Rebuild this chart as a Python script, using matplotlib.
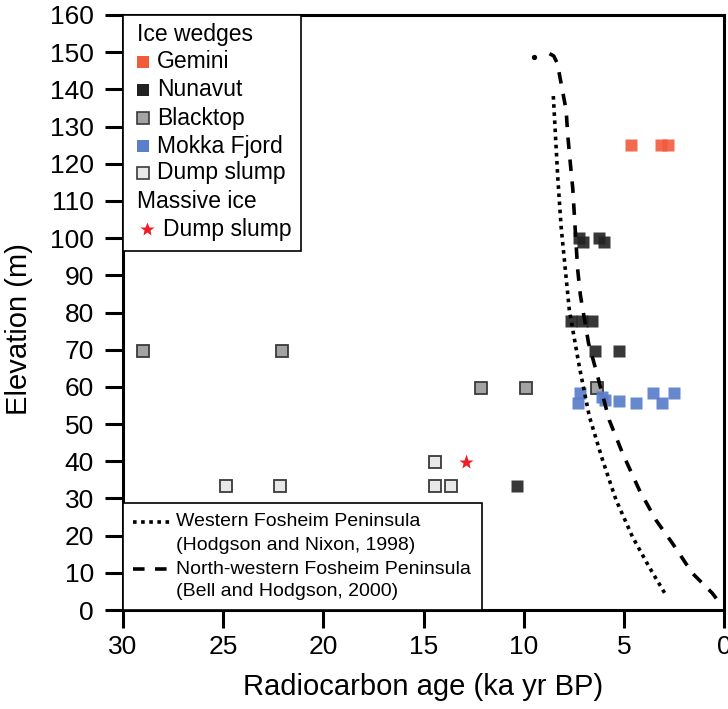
"""
Ice wedge / massive ice radiocarbon ages vs elevation, Fosheim Peninsula.
Recreated chart -> out.png
"""
import matplotlib
matplotlib.use("Agg")
import matplotlib.pyplot as plt
from matplotlib.patches import Rectangle

plt.rcParams["font.family"] = ["Liberation Sans", "DejaVu Sans"]

# ---- data (age in ka yr BP, elevation in m) ----
gemini_age = [4.63, 3.15, 2.79]
gemini_elev = [125, 125, 125]

nunavut_age = [7.26, 7.05, 6.22, 6.0, 7.65, 7.1, 6.6, 6.44, 5.26, 10.31]
nunavut_elev = [99.9, 99.0, 99.9, 99.0, 77.8, 77.8, 77.8, 69.7, 69.7, 33.3]

blacktop_age = [29.0, 22.08, 12.14, 9.86, 6.34]
blacktop_elev = [69.7, 69.7, 59.8, 59.8, 59.8]

mokka_age = [7.17, 7.27, 6.08, 5.93, 5.23, 4.37, 3.52, 3.1, 2.49]
mokka_elev = [58.3, 55.7, 57.3, 56.6, 56.3, 55.6, 58.3, 55.6, 58.3]

dump_age = [24.87, 22.15, 14.44, 13.61, 14.44]
dump_elev = [33.3, 33.3, 33.3, 33.3, 39.8]

massive_age = [12.86]
massive_elev = [39.8]

# Western Fosheim Peninsula (Hodgson and Nixon, 1998)
west_age = [8.52, 8.3, 8.13, 7.72, 7.22, 6.72, 6.06, 5.39, 4.57, 3.74, 2.9]
west_elev = [138.2, 116.5, 103.0, 80.6, 65.4, 52.0, 40.3, 29.6, 19.7, 11.6, 4.0]
west_top_age = [9.46]
west_top_elev = [148.7]

# North-western Fosheim Peninsula (Bell and Hodgson, 2000)
nw_age = [8.71, 8.5, 8.32, 8.13, 7.88, 7.8, 7.67, 7.55, 7.47, 7.31, 7.17,
          6.76, 6.39, 5.73, 5.06, 4.23, 3.4, 2.57, 1.58, 0.58, 0.08]
nw_elev = [149.6, 149.0, 147.0, 141.6, 134.4, 127.7, 120.1, 113.4, 106.2, 91.9, 84.7,
           71.7, 64.5, 51.1, 42.1, 32.3, 24.2, 17.9, 9.9, 4.5, 0.9]

x_ticks = [30, 25, 20, 15, 10, 5, 0]
y_ticks = list(range(0, 161, 10))

# ---- styles ----
C_GEMINI = "#F25A3C"
C_NUNAVUT = "#222222"
C_BLACKTOP = "#A3A3A3"
C_MOKKA = "#5B7EC9"
C_DUMP = "#E8E8E8"
C_EDGE = "#3A3A3A"
C_STAR = "#EE1C24"
DOT = (0, (1.0, 1.25))
DASH = (0, (3.2, 2.9))
LW = 2.6

fig = plt.figure(figsize=(7.28, 7.09), dpi=100)
ax = fig.add_axes([123 / 728, 99 / 709, 601 / 728, 595 / 709])

ms = 8
ax.plot(gemini_age, gemini_elev, "s", ms=ms, color=C_GEMINI, mec="none", alpha=0.9, zorder=3)
ax.plot(nunavut_age, nunavut_elev, "s", ms=ms, color=C_NUNAVUT, mec="none", alpha=0.9, zorder=3)
ax.plot(blacktop_age, blacktop_elev, "s", ms=ms, color=C_BLACKTOP, mec=C_EDGE, mew=1.3, zorder=3)
ax.plot(mokka_age, mokka_elev, "s", ms=ms, color=C_MOKKA, mec="none", alpha=0.92, zorder=3)
ax.plot(dump_age, dump_elev, "s", ms=ms, color=C_DUMP, mec=C_EDGE, mew=1.3, zorder=3)
ax.plot(massive_age, massive_elev, "*", ms=11, color=C_STAR, mec="none", zorder=3)

ax.plot(west_age, west_elev, color="black", lw=LW, ls=DOT, zorder=4)
ax.plot(west_top_age, west_top_elev, "o", ms=2.8, color="black", zorder=4)
ax.plot(nw_age, nw_elev, color="black", lw=LW, ls=DASH, zorder=4)

ax.set_xlim(30, 0)
ax.set_ylim(0, 160)
ax.set_xticks(x_ticks)
ax.set_yticks(y_ticks)
ax.tick_params(axis="both", direction="out", length=13, width=2.2, labelsize=19)
ax.tick_params(axis="x", pad=5)
ax.tick_params(axis="y", pad=8)
for sp in ax.spines.values():
    sp.set_linewidth(2.2)

ax.set_xlabel("Radiocarbon age (ka yr BP)", fontsize=21)
ax.set_ylabel("Elevation (m)", fontsize=21)
ax.xaxis.set_label_coords(0.5, -0.106)
ax.yaxis.set_label_coords(-0.15, 0.472)


def px(x, y):
    # pixel position of the reference picture -> axes fraction
    return (x - 123) / 601, (610 - y) / 595


# ---- upper legend (drawn by hand: two group headings) ----
x0, y0 = px(123, 251)
x1, y1 = px(301, 15)
ax.add_patch(Rectangle((x0, y0), x1 - x0, y1 - y0, transform=ax.transAxes,
                       facecolor="white", edgecolor="black", lw=1.2, zorder=5, clip_on=False))
lf = 16.5
ax.text(*px(137, 34), "Ice wedges", transform=ax.transAxes, fontsize=lf, va="center", zorder=6)
entries = [
    ("Gemini", C_GEMINI, "none", 62),
    ("Nunavut", C_NUNAVUT, "none", 90),
    ("Blacktop", C_BLACKTOP, C_EDGE, 118),
    ("Mokka Fjord", C_MOKKA, "none", 146),
    ("Dump slump", C_DUMP, C_EDGE, 173),
]
for label, fc, ec, yy in entries:
    ax.plot(*px(143, yy), "s", ms=9, color=fc, mec=ec, mew=1.2,
            transform=ax.transAxes, zorder=6, clip_on=False)
    ax.text(*px(157, yy), label, transform=ax.transAxes, fontsize=lf, va="center", zorder=6)
ax.text(*px(137, 201), "Massive ice", transform=ax.transAxes, fontsize=lf, va="center", zorder=6)
ax.plot(*px(147, 229), "*", ms=10, color=C_STAR, mec="none",
        transform=ax.transAxes, zorder=6, clip_on=False)
ax.text(*px(163, 229), "Dump slump", transform=ax.transAxes, fontsize=lf, va="center", zorder=6)

# ---- lower legend ----
x0, y0 = px(123, 610)
x1, y1 = px(482, 503)
ax.add_patch(Rectangle((x0, y0), x1 - x0, y1 - y0, transform=ax.transAxes,
                       facecolor="white", edgecolor="black", lw=1.2, zorder=5, clip_on=False))
sf = 14
for yy, ls, l1, l2 in [
    (522, DOT, "Western Fosheim Peninsula", "(Hodgson and Nixon, 1998)"),
    (569, DASH, "North-western Fosheim Peninsula", "(Bell and Hodgson, 2000)"),
]:
    xa, ya = px(133, yy)
    xb, _ = px(170, yy)
    ax.plot([xa, xb], [ya, ya], color="black", lw=LW, ls=ls,
            transform=ax.transAxes, zorder=6, clip_on=False)
    ax.text(*px(176, yy), l1, transform=ax.transAxes, fontsize=sf, va="center", zorder=6)
    ax.text(*px(176, yy + 23), l2, transform=ax.transAxes, fontsize=sf, va="center", zorder=6)

fig.savefig("out.png", dpi=100)
